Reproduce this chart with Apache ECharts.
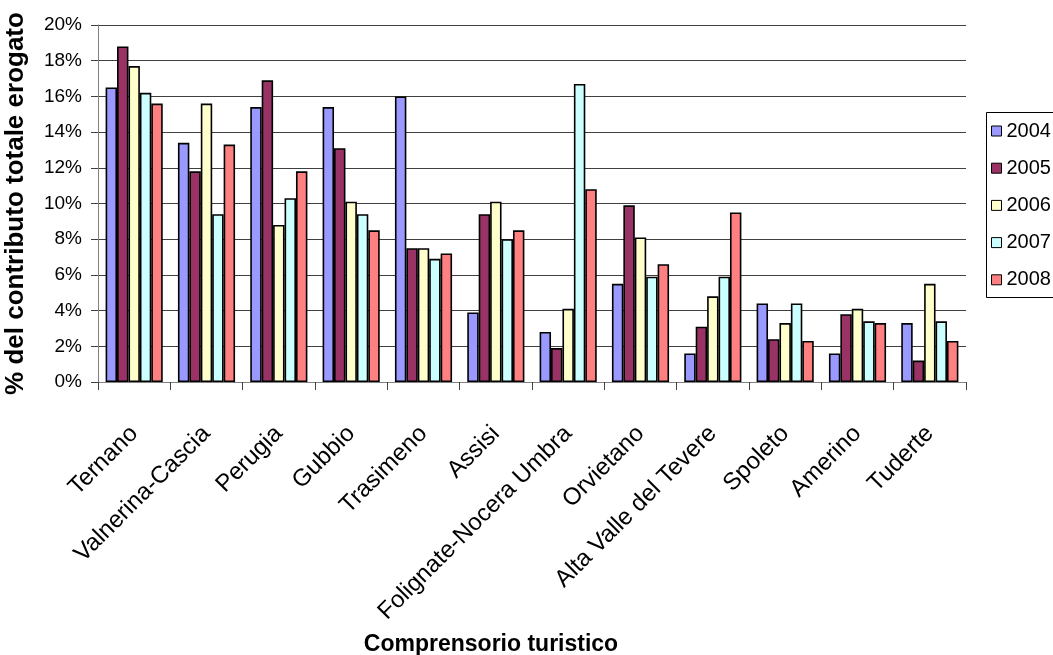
<!DOCTYPE html>
<html>
<head>
<meta charset="utf-8">
<script src="https://cdn.jsdelivr.net/npm/echarts@6/dist/echarts.min.js"></script>
<style>
  html, body { margin: 0; padding: 0; background: #fff; }
  #chart { width: 1053px; height: 655px; }
</style>
</head>
<body>
<div id="chart"></div>
<script>
// Tourist districts (comprensori turistici)
const categories = ['Ternano', 'Valnerina-Cascia', 'Perugia', 'Gubbio', 'Trasimeno', 'Assisi',
  'Folignate-Nocera Umbra', 'Orvietano', 'Alta Valle del Tevere', 'Spoleto', 'Amerino', 'Tuderte'];

// Share of total contribution paid out, in percent, per year
const years = ['2004', '2005', '2006', '2007', '2008'];
const y2004 = [16.5, 13.4, 15.4, 15.4, 16.0, 3.9, 2.8, 5.5, 1.6, 4.4, 1.6, 3.3];
const y2005 = [18.8, 11.8, 16.9, 13.1, 7.5, 9.4, 1.9, 9.9, 3.1, 2.4, 3.8, 1.2];
const y2006 = [17.7, 15.6, 8.8, 10.1, 7.5, 10.1, 4.1, 8.1, 4.8, 3.3, 4.1, 5.5];
const y2007 = [16.2, 9.4, 10.3, 9.4, 6.9, 8.0, 16.7, 5.9, 5.9, 4.4, 3.4, 3.4];
const y2008 = [15.6, 13.3, 11.8, 8.5, 7.2, 8.5, 10.8, 6.6, 9.5, 2.3, 3.3, 2.3];
const seriesValues = [y2004, y2005, y2006, y2007, y2008];

const colors = ['#9999FF', '#993366', '#FFFFCC', '#CCFFFF', '#FF8080'];
const FONT = 'Arial, "Liberation Sans", sans-serif';

const chart = echarts.init(document.getElementById('chart'), null, { renderer: 'canvas' });

chart.setOption({
  animation: false,
  backgroundColor: '#ffffff',
  textStyle: { fontFamily: FONT, color: '#000' },
  title: {
    text: 'Comprensorio turistico',
    left: 486,
    top: 628,
    textAlign: 'center',
    textStyle: { fontFamily: FONT, fontSize: 23, fontWeight: 'bold', color: '#000' }
  },
  // legend frame runs past the right edge of the canvas
  graphic: [{
    type: 'rect',
    silent: true,
    shape: { x: 986.5, y: 112.5, width: 120, height: 185 },
    style: { fill: 'none', stroke: '#000', lineWidth: 1 }
  }],
  legend: {
    orient: 'vertical',
    left: 986,
    top: 113,
    padding: [8, 10, 8, 5],
    itemGap: 17.2,
    itemWidth: 10,
    itemHeight: 10,
    icon: 'rect',
    borderWidth: 0,
    itemStyle: { borderColor: '#000', borderWidth: 1 },
    textStyle: { fontFamily: FONT, fontSize: 20, color: '#000', lineHeight: 19, padding: [0, 0, 0, 0] },
    data: years
  },
  grid: { left: 98, right: 87, top: 25, bottom: 273, containLabel: false, outerBoundsMode: 'none' },
  xAxis: {
    type: 'category',
    data: categories,
    boundaryGap: true,
    axisLine: { show: true, lineStyle: { color: '#808080', width: 1 } },
    axisTick: { show: true, interval: 0, length: 8, lineStyle: { color: '#404040' } },
    axisLabel: {
      interval: 0,
      rotate: 45,
      margin: 48,
      fontFamily: FONT,
      fontSize: 24,
      color: '#000'
    },
    splitLine: { show: false }
  },
  yAxis: {
    type: 'value',
    min: 0,
    max: 20,
    interval: 2,
    name: '% del contributo totale erogato',
    nameLocation: 'middle',
    nameGap: 69,
    nameRotate: 90,
    nameTextStyle: { fontFamily: FONT, fontSize: 26, fontWeight: 'bold', color: '#000' },
    axisLine: { show: true, lineStyle: { color: '#808080', width: 1 } },
    axisTick: { show: true, length: 7, lineStyle: { color: '#404040' } },
    axisLabel: {
      formatter: '{value}%',
      margin: 16,
      fontFamily: FONT,
      fontSize: 19,
      color: '#000'
    },
    splitLine: { show: true, lineStyle: { color: '#404040', width: 1 } }
  },
  series: years.map((yr, i) => ({
    name: yr,
    type: 'bar',
    data: seriesValues[i],
    barGap: '0%',
    barCategoryGap: '21%',
    itemStyle: { color: colors[i], borderColor: '#000', borderWidth: 1.6 }
  }))
});
</script>
</body>
</html>
